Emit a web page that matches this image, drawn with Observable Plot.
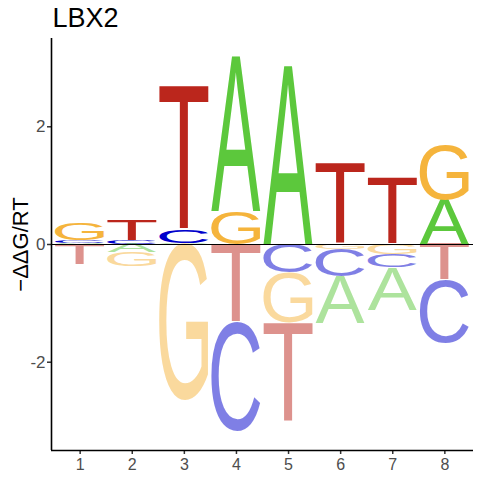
<!DOCTYPE html>
<html>
<head>
<meta charset="utf-8">
<script src="https://cdn.jsdelivr.net/npm/d3@7"></script>
<script src="https://cdn.jsdelivr.net/npm/@observablehq/plot@0.6"></script>
<style>
  html, body { margin: 0; padding: 0; background: #fff; }
  svg { display: block; }
</style>
</head>
<body>
<div id="chart"></div>
<script>
// ---- data ----
const title = "LBX2";
const yLabel = "\u2212\u0394\u0394G/RT";
const positions = [1, 2, 3, 4, 5, 6, 7, 8];
const letters = ["A", "C", "G", "T"];
const valuesA = [0.02, -0.14, 0.02, 2.63, 3.03, -0.80, -0.725, 0.75];
const valuesC = [0.05, 0.07, 0.21, -1.85, -0.49, -0.465, -0.21, -1.07];
const valuesG = [0.28, -0.24, -2.66, 0.565, -0.85, -0.085, -0.18, 0.95];
const valuesT = [-0.35, 0.34, 2.44, -1.33, -1.68, 1.37, 1.13, -0.61];
const yTicks = [-2, 0, 2];
const letterColors = {A: "#5CC83C", C: "#0000CC", G: "#F5B43C", T: "#BB261C"};

const series = {A: valuesA, C: valuesC, G: valuesG, T: valuesT};

// long table
const table = [];
positions.forEach((p, i) => {
  letters.forEach(l => table.push({pos: p, letter: l, value: series[l][i]}));
});

// stack: smallest magnitude closest to zero, positives up, negatives down
const stacked = [];
for (const p of positions) {
  const rows = table.filter(d => d.pos === p && d.value !== 0)
    .sort((a, b) => Math.abs(a.value) - Math.abs(b.value));
  let yp = 0, yn = 0;
  for (const r of rows) {
    if (r.value > 0) { stacked.push({...r, y1: yp, y2: yp + r.value}); yp += r.value; }
    else { stacked.push({...r, y1: yn + r.value, y2: yn}); yn += r.value; }
  }
}

// glyph ink metrics
const FONT = "'Liberation Sans', Arial, Helvetica, sans-serif";
const ctx = document.createElement("canvas").getContext("2d");
ctx.font = `100px ${FONT}`;
ctx.textAlign = "left";
ctx.textBaseline = "alphabetic";
const metrics = {};
for (const l of letters) {
  const m = ctx.measureText(l);
  metrics[l] = {
    left: m.actualBoundingBoxLeft,
    right: m.actualBoundingBoxRight,
    ascent: m.actualBoundingBoxAscent,
    descent: m.actualBoundingBoxDescent
  };
}
const letterWidth = 0.945;

function logoMark(index, scales) {
  const {x, y} = scales;
  const g = d3.create("svg:g").attr("text-anchor", "start");
  for (const d of stacked) {
    const m = metrics[d.letter];
    const w = m.left + m.right, h = m.ascent + m.descent;
    const px0 = x(d.pos - letterWidth / 2), px1 = x(d.pos + letterWidth / 2);
    const pyTop = y(d.y2), pyBot = y(d.y1);
    g.append("text")
      .attr("transform", `translate(${px0},${pyTop}) scale(${(px1 - px0) / w},${(pyBot - pyTop) / h})`)
      .attr("x", m.left)
      .attr("y", m.ascent)
      .attr("text-anchor", "start")
      .attr("font-family", FONT)
      .attr("font-size", 100)
      .attr("fill", letterColors[d.letter])
      .attr("fill-opacity", d.value < 0 ? 0.5 : 1)
      .text(d.letter);
  }
  return g.node();
}

const chart = Plot.plot({
  width: 480,
  height: 480,
  marginLeft: 51,
  marginRight: 7,
  marginTop: 38,
  marginBottom: 30,
  style: {fontFamily: FONT, background: "#fff"},
  x: {domain: [0.45, 8.55], axis: null},
  y: {domain: [-3.5, 3.5], axis: null},
  marks: [
    logoMark,
    Plot.ruleY([0], {stroke: "black", strokeWidth: 1.2}),
    Plot.axisY({ticks: yTicks, tickSize: 4, tickPadding: 2, fontSize: 17,
      stroke: "#333333", strokeWidth: 1.5, fill: "#4D4D4D", tickFormat: d => String(d), label: null}),
    Plot.axisX({ticks: positions, tickSize: 4, tickPadding: 4, fontSize: 16,
      stroke: "#333333", strokeWidth: 1.5, fill: "#4D4D4D", tickFormat: d => String(d), label: null}),
    Plot.ruleX([0.45], {stroke: "black", strokeWidth: 1.6}),
    Plot.ruleY([-3.5], {stroke: "black", strokeWidth: 1.6}),
    Plot.text([title], {frameAnchor: "top-left", dx: 1, dy: -31, lineAnchor: "top",
      textAnchor: "start", fontSize: 27, fill: "black"}),
    Plot.text([yLabel], {frameAnchor: "left", dx: -31, rotate: -90, lineAnchor: "middle",
      textAnchor: "middle", fontSize: 22, fill: "black"})
  ]
});
document.getElementById("chart").appendChild(chart);
</script>
</body>
</html>
